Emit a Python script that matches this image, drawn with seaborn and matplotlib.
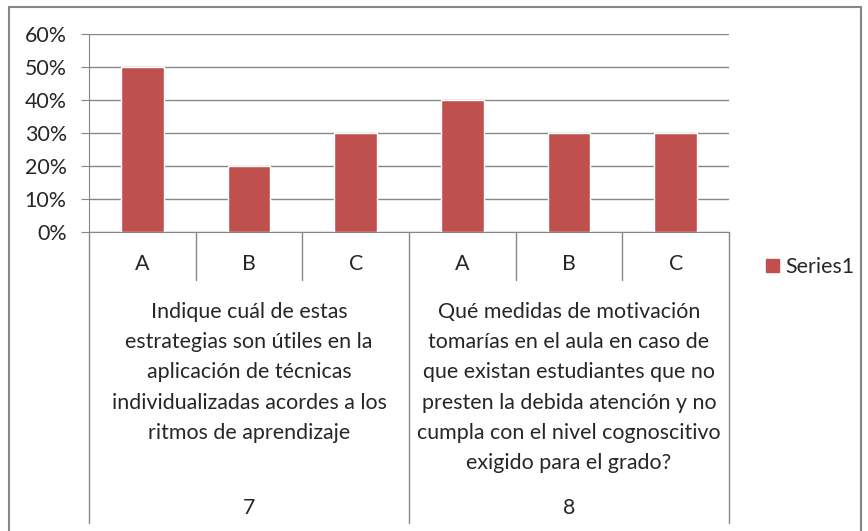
import matplotlib
matplotlib.use("Agg")
import matplotlib.pyplot as plt
import seaborn as sns
import pandas as pd
from matplotlib.patches import Rectangle, Patch
from matplotlib.ticker import PercentFormatter

# datos
preguntas = ["7", "8"]
textos = [
    "Indique cuál de estas\nestrategias son útiles en la\naplicación de técnicas\nindividualizadas acordes a los\nritmos de aprendizaje",
    "Qué medidas de motivación\ntomarías en el aula en caso de\nque existan estudiantes que no\npresten la debida atención y no\ncumpla con el nivel cognoscitivo\nexigido para el grado?",
]
opciones = ["A", "B", "C"]
valores_7 = [0.50, 0.20, 0.30]
valores_8 = [0.40, 0.30, 0.30]

data = pd.DataFrame({
    "cat": [p + o for p in preguntas for o in opciones],
    "valor": valores_7 + valores_8,
})

sns.set_style("white")
plt.rcParams["font.family"] = ["Lato", "DejaVu Sans"]
FS = 15.4
gris = "#868686"
rojo = "#C0504D"

fig = plt.figure(figsize=(8.68, 5.31), dpi=100)
W, H = 868, 531
ax = fig.add_axes([89 / W, (H - 232) / H, (729 - 89) / W, (232 - 34) / H])

sns.barplot(data=data, x="cat", y="valor", color=rojo, width=0.4, ax=ax,
            saturation=1, order=list(data["cat"]))
ax.set_ylim(0, 0.6)
ax.set_xlim(-0.5, len(data) - 0.5)
ax.set_yticks([0, 0.1, 0.2, 0.3, 0.4, 0.5, 0.6])
ax.yaxis.set_major_formatter(PercentFormatter(1.0, decimals=0))
ax.yaxis.grid(True, color=gris, linewidth=1)
ax.set_axisbelow(True)
ax.tick_params(axis="y", left=True, length=6, color=gris, labelsize=FS, pad=10)
ax.set_xticks([])
ax.set_xlabel("")
ax.set_ylabel("")
for s in ["top", "right"]:
    ax.spines[s].set_visible(False)
ax.spines["left"].set_color(gris)
ax.spines["bottom"].set_color(gris)

# eje de categorias en dos niveles
trans = ax.get_xaxis_transform()
def yax(py):
    return (H - py - (H - 232)) / (232 - 34)

n = len(data)
for i in range(n + 1):
    x = i - 0.5
    fondo = 523 if i % 3 == 0 else 280
    ax.plot([x, x], [0, yax(fondo)], transform=trans, color=gris, lw=1, clip_on=False)
for i, cat in enumerate(data["cat"]):
    ax.text(i, yax(264), cat[1:], transform=trans, ha="center", va="center", fontsize=FS)
for g, (p, t) in enumerate(zip(preguntas, textos)):
    xc = g * 3 + 1
    ax.text(xc, yax(302), t, transform=trans, ha="center", va="top", fontsize=FS,
            linespacing=1.64)
    ax.text(xc, yax(508), p, transform=trans, ha="center", va="center", fontsize=FS)

# leyenda
fig.legend(handles=[Patch(color=rojo, label="Series1")], loc="center left",
           bbox_to_anchor=(766 / W, (H - 267) / H), frameon=False, fontsize=FS,
           handlelength=0.6, handleheight=0.6, handletextpad=0.3,
           borderpad=0, borderaxespad=0)

# marco del grafico
fig.patches.append(Rectangle((9 / W, -0.05), (861 - 9) / W, (H - 7) / H + 0.05,
                             transform=fig.transFigure, fill=False, edgecolor=gris, lw=1.5))

fig.savefig("out.png", dpi=100)
